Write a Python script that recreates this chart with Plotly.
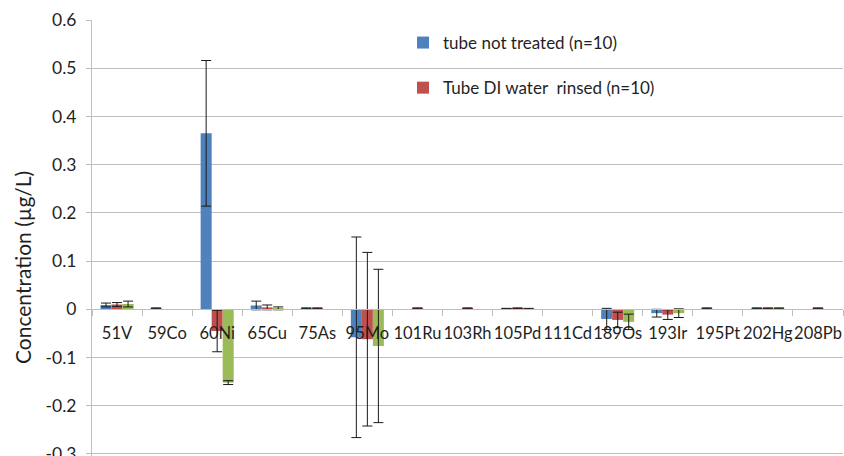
import numpy as np
import plotly.graph_objects as go

# Isotopes measured
elements = ["51V", "59Co", "60Ni", "65Cu", "75As", "95Mo", "101Ru", "103Rh",
            "105Pd", "111Cd", "189Os", "193Ir", "195Pt", "202Hg", "208Pb"]

nan = float("nan")

# Mean concentrations (µg/L); None = not reported
not_treated = [0.009, 0.002, 0.365, 0.008, 0.002, -0.058, None, None,
               0.001, None, -0.020, -0.008, 0.002, 0.002, None]
not_treated_sd = [0.004, 0.001, 0.151, 0.009, 0.001, 0.208, nan, nan,
                  0.001, nan, 0.022, 0.008, 0.001, 0.001, nan]

di_rinsed = [0.010, None, -0.045, 0.004, 0.002, -0.062, 0.002, 0.002,
             0.002, -0.001, -0.022, -0.011, None, 0.002, 0.002]
di_rinsed_sd = [0.004, nan, 0.043, 0.005, 0.001, 0.180, 0.001, 0.001,
                0.001, nan, 0.016, 0.010, nan, 0.001, 0.001]

third_set = [0.011, None, -0.152, 0.002, None, -0.076, None, -0.001,
             0.001, -0.001, -0.026, -0.008, -0.001, 0.002, None]
third_set_sd = [0.006, nan, 0.004, 0.003, nan, 0.159, nan, nan,
                0.001, nan, 0.016, 0.009, nan, 0.001, nan]

y_ticks = [-0.3, -0.2, -0.1, 0, 0.1, 0.2, 0.3, 0.4, 0.5, 0.6]
y_tick_text = ["-0.3", "-0.2", "-0.1", "0", "0.1", "0.2", "0.3", "0.4", "0.5", "0.6"]

series = [
    ("tube not treated (n=10)", not_treated, not_treated_sd, "#4F81BD", True),
    ("Tube DI water  rinsed (n=10)", di_rinsed, di_rinsed_sd, "#C0504D", True),
    ("Tube acid rinsed (n=10)", third_set, third_set_sd, "#9BBB59", False),
]

FONT = "Lato, 'Open Sans', sans-serif"
GRID = "#BEBEBE"
INK = "#1f1f1f"
PLOT_W = 844 - 92 - 1
PLOT_H = 456 - 20
Y_MIN, Y_MAX = -0.3042, 0.6

fig = go.Figure()
for i, (name, vals, sd, color, in_legend) in enumerate(series):
    fig.add_trace(go.Bar(
        x=elements,
        y=vals,
        name=name,
        marker=dict(color=color, line=dict(width=0)),
        error_y=dict(type="data", array=np.array(sd, dtype=float),
                     color="#1a1a1a", thickness=1, width=5),
        showlegend=in_legend,
        legendgroup=f"g{i}",
    ))

fig.update_layout(
    width=844, height=456, autosize=False,
    margin=dict(l=92, r=1, t=20, b=0, autoexpand=False),
    paper_bgcolor="white", plot_bgcolor="white",
    barmode="group", bargap=0.34, bargroupgap=0,
    font=dict(family=FONT, size=16, color=INK),
    legend=dict(
        x=(403 - 92) / PLOT_W, y=1 - 5 / PLOT_H, xanchor="left", yanchor="top",
        bgcolor="rgba(0,0,0,0)", font=dict(size=17, color=INK),
        traceorder="grouped", tracegroupgap=20, itemwidth=30,
    ),
    xaxis=dict(
        type="category", range=[-0.5, len(elements) - 0.5],
        anchor="free", position=-Y_MIN / (Y_MAX - Y_MIN), automargin=False,
        showline=True, linecolor=GRID, linewidth=1,
        ticks="outside", tickson="boundaries", ticklen=6, tickcolor=GRID,
        showgrid=False, tickangle=0, tickfont=dict(size=16.5, color=INK),
        ticklabelstandoff=9,
    ),
    yaxis=dict(
        range=[Y_MIN, Y_MAX], tickvals=y_ticks, ticktext=y_tick_text,
        automargin=False, ticklabeloverflow="allow",
        showgrid=True, gridcolor=GRID, gridwidth=1,
        showline=True, linecolor=GRID, linewidth=1,
        ticks="outside", ticklen=5, tickcolor=GRID,
        zeroline=False, tickfont=dict(size=17.5, color=INK),
        ticklabelstandoff=6,
    ),
    annotations=[dict(
        text="Concentration (µg/L)", textangle=-90,
        xref="paper", yref="paper", x=-70 / PLOT_W, y=(456 - 268) / PLOT_H,
        xanchor="center", yanchor="middle", showarrow=False,
        font=dict(size=21, color=INK),
    )],
)

fig.write_html("out.html")
